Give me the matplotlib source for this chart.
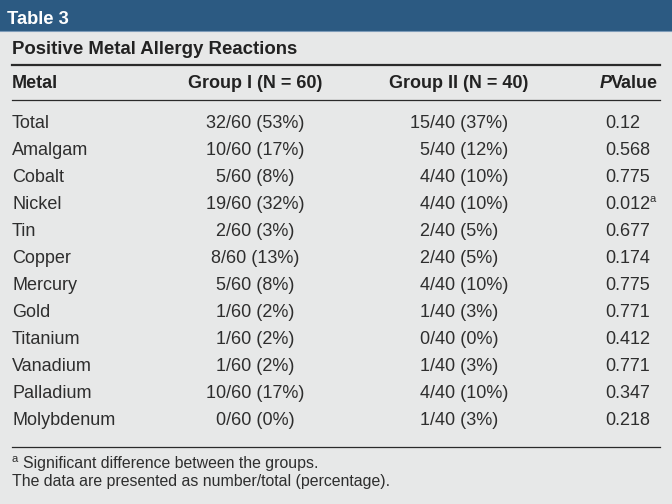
import matplotlib
matplotlib.use("Agg")
import matplotlib.pyplot as plt

plt.rcParams['font.family'] = ['Liberation Sans', 'DejaVu Sans']

title = "Table 3"
subtitle = "Positive Metal Allergy Reactions"
headers = ["Metal", "Group I (N = 60)", "Group II (N = 40)", "Value"]
metals = ["Total", "Amalgam", "Cobalt", "Nickel", "Tin", "Copper", "Mercury",
          "Gold", "Titanium", "Vanadium", "Palladium", "Molybdenum"]
group1 = ["32/60 (53%)", "10/60 (17%)", "5/60 (8%)", "19/60 (32%)", "2/60 (3%)",
          "8/60 (13%)", "5/60 (8%)", "1/60 (2%)", "1/60 (2%)", "1/60 (2%)",
          "10/60 (17%)", "0/60 (0%)"]
group2 = ["15/40 (37%)", "5/40 (12%)", "4/40 (10%)", "4/40 (10%)", "2/40 (5%)",
          "2/40 (5%)", "4/40 (10%)", "1/40 (3%)", "0/40 (0%)", "1/40 (3%)",
          "4/40 (10%)", "1/40 (3%)"]
pvalues = ["0.12", "0.568", "0.775", "0.012", "0.677", "0.174", "0.775",
           "0.771", "0.412", "0.771", "0.347", "0.218"]
significant = ["Nickel"]
footnotes = ["Significant difference between the groups.",
             "The data are presented as number/total (percentage)."]

W, H = 672, 504
fig = plt.figure(figsize=(6.72, 5.04), dpi=100, facecolor="#e7e8e8")
ax = fig.add_axes([0, 0, 1, 1])
ax.set_xlim(0, W)
ax.set_ylim(H, 0)
ax.axis("off")

band = "#2c5a82"
dark = "#222222"
body = "#2e2e2e"
fs = 13

fig.canvas.draw()
renderer = fig.canvas.get_renderer()

ax.add_patch(plt.Rectangle((0, 0), W, 31, color=band, lw=0))
ax.plot([0, W], [31, 31], color="#7d9bb8", lw=0.8)
ax.text(7, 24, title, color="white", fontsize=13.2, fontweight="bold", va="baseline")
ax.text(12, 54, subtitle, color=dark, fontsize=13.4, fontweight="bold", va="baseline")

ax.plot([12, 660], [65, 65], color="#2a2a2a", lw=1.6)
ax.plot([12, 660], [100, 100], color="#2a2a2a", lw=0.9)
ax.plot([12, 660], [447, 447], color="#2a2a2a", lw=0.9)

# header row
ax.text(12, 88, headers[0], color=dark, fontsize=fs, fontweight="bold", va="baseline")
ax.text(255, 88, headers[1], color=dark, fontsize=fs, fontweight="bold", va="baseline", ha="center")
ax.text(459, 88, headers[2], color=dark, fontsize=fs, fontweight="bold", va="baseline", ha="center")
tv = ax.text(658, 88, headers[3], color=dark, fontsize=fs, fontweight="bold", va="baseline", ha="right")
vb = tv.get_window_extent(renderer)
ax.text(vb.x0 + 1, 88, "P", color=dark, fontsize=fs, fontweight="bold", style="italic",
        va="baseline", ha="right")

# digit width, for aligning the group II column on the slash
t0 = ax.text(0, 0, "00", fontsize=fs)
t1 = ax.text(0, 0, "0", fontsize=fs)
digit_w = t0.get_window_extent(renderer).width - t1.get_window_extent(renderer).width
t0.remove()
t1.remove()

for i, m in enumerate(metals):
    y = 128 + 27 * i
    ax.text(12, y, m, color=body, fontsize=fs, va="baseline")
    ax.text(255, y, group1[i], color=body, fontsize=fs, va="baseline", ha="center")
    num = group2[i].split("/")[0]
    ax.text(410 + (2 - len(num)) * digit_w, y, group2[i], color=body, fontsize=fs, va="baseline")
    t = ax.text(605, y, pvalues[i], color=body, fontsize=fs, va="baseline")
    if m in significant:
        bb = t.get_window_extent(renderer)
        ax.text(bb.x1 - 0.5, y - 7, "a", color=body, fontsize=8, va="baseline")

# footnotes
ax.text(12, 462, "a", color=body, fontsize=8, va="baseline")
ax.text(23, 468, footnotes[0], color=body, fontsize=11.4, va="baseline")
ax.text(12, 486, footnotes[1], color=body, fontsize=11.4, va="baseline")

fig.savefig("out.png", dpi=100, facecolor=fig.get_facecolor())
